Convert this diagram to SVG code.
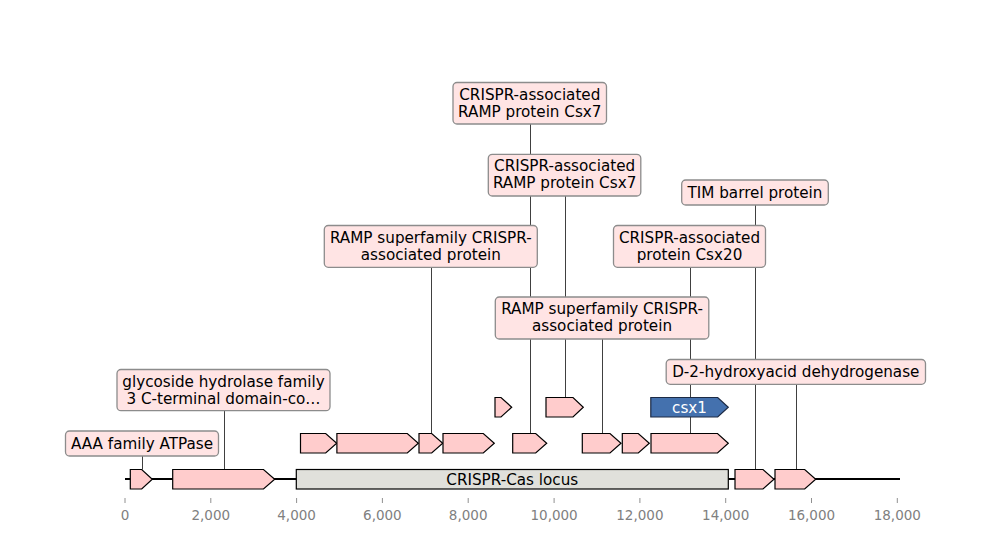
<svg xmlns="http://www.w3.org/2000/svg" width="1000" height="560" viewBox="0 0 1000 560">
  <style>
    text { font-family: "DejaVu Sans", "Liberation Sans", sans-serif; }
    .lbl { fill: #ffe4e4; stroke: #8c8c8c; stroke-width: 1.3; }
    .lbl-t { font-size: 15.2px; fill: #000; text-anchor: middle; }
    .feat { fill: #ffcccc; stroke: #000; stroke-width: 1.2; stroke-linejoin: miter; }
    .locus { fill: #e0e0db; stroke: #000; stroke-width: 1.2; }
    .csx { fill: #4471ae; stroke: #1c2a44; stroke-width: 1.2; }
    .lead { stroke: #404040; stroke-width: 1; fill: none; }
    .tick { stroke: #909090; stroke-width: 1; }
    .tick-t { font-size: 13.5px; fill: #808080; text-anchor: middle; }
  </style>
  <rect width="1000" height="560" fill="#ffffff"/>

  <!-- leader lines from labels to features -->
  <g id="connectors">
    <line class="lead" x1="142.5" y1="456" x2="142.5" y2="469.5"/>
    <line class="lead" x1="224.5" y1="410.7" x2="224.5" y2="469.5"/>
    <line class="lead" x1="431.5" y1="267.3" x2="431.5" y2="433.5"/>
    <line class="lead" x1="530.5" y1="124" x2="530.5" y2="433.5"/>
    <line class="lead" x1="565.5" y1="196" x2="565.5" y2="397.5"/>
    <line class="lead" x1="602.5" y1="339" x2="602.5" y2="433.5"/>
    <line class="lead" x1="690.5" y1="267.3" x2="690.5" y2="433.5"/>
    <line class="lead" x1="755.5" y1="205" x2="755.5" y2="469.5"/>
    <line class="lead" x1="796.5" y1="384.3" x2="796.5" y2="469.5"/>
  </g>

  <!-- sequence backbone -->
  <line id="backbone" x1="125" y1="479" x2="900" y2="479" stroke="#000" stroke-width="2"/>

  <!-- axis -->
  <g id="axis">
    <line class="tick" x1="125" y1="498" x2="125" y2="503"/>
    <line class="tick" x1="210.8" y1="498" x2="210.8" y2="503"/>
    <line class="tick" x1="296.6" y1="498" x2="296.6" y2="503"/>
    <line class="tick" x1="382.4" y1="498" x2="382.4" y2="503"/>
    <line class="tick" x1="468.2" y1="498" x2="468.2" y2="503"/>
    <line class="tick" x1="554.1" y1="498" x2="554.1" y2="503"/>
    <line class="tick" x1="639.9" y1="498" x2="639.9" y2="503"/>
    <line class="tick" x1="725.7" y1="498" x2="725.7" y2="503"/>
    <line class="tick" x1="811.5" y1="498" x2="811.5" y2="503"/>
    <line class="tick" x1="897.3" y1="498" x2="897.3" y2="503"/>
    <text class="tick-t" x="125" y="520">0</text>
    <text class="tick-t" x="210.8" y="520">2,000</text>
    <text class="tick-t" x="296.6" y="520">4,000</text>
    <text class="tick-t" x="382.4" y="520">6,000</text>
    <text class="tick-t" x="468.2" y="520">8,000</text>
    <text class="tick-t" x="554.1" y="520">10,000</text>
    <text class="tick-t" x="639.9" y="520">12,000</text>
    <text class="tick-t" x="725.7" y="520">14,000</text>
    <text class="tick-t" x="811.5" y="520">16,000</text>
    <text class="tick-t" x="897.3" y="520">18,000</text>
  </g>

  <!-- features, row 0 (on the backbone) -->
  <g id="f-aaa"><path class="feat" d="M130.3,469.5 H141.7 L152.3,479.2 L141.7,489 H130.3 Z"/></g>
  <g id="f-gh3"><path class="feat" d="M172.7,469.5 H263.5 L274.7,479.2 L263.5,489 H172.7 Z"/></g>
  <g id="f-locus">
    <rect class="locus" x="296.3" y="469.5" width="432" height="19.5"/>
    <text x="512.3" y="484.7" font-size="15.2" text-anchor="middle" fill="#000">CRISPR-Cas locus</text>
  </g>
  <g id="f-tim"><path class="feat" d="M735,469.5 H763 L774,479.2 L763,489 H735 Z"/></g>
  <g id="f-d2hd"><path class="feat" d="M775,469.5 H804.7 L815.7,479.2 L804.7,489 H775 Z"/></g>

  <!-- features, row 1 -->
  <g id="f-r1a"><path class="feat" d="M300.5,433.5 H325.7 L336.7,443.2 L325.7,453 H300.5 Z"/></g>
  <g id="f-r1b"><path class="feat" d="M336.9,433.5 H407.3 L418.3,443.2 L407.3,453 H336.9 Z"/></g>
  <g id="f-ramp1"><path class="feat" d="M419,433.5 H431.7 L442.7,443.2 L431.7,453 H419 Z"/></g>
  <g id="f-r1c"><path class="feat" d="M443,433.5 H483.3 L494.3,443.2 L483.3,453 H443 Z"/></g>
  <g id="f-csx7a"><path class="feat" d="M512.7,433.5 H535.7 L546.7,443.2 L535.7,453 H512.7 Z"/></g>
  <g id="f-ramp2"><path class="feat" d="M582.3,433.5 H610 L621,443.2 L610,453 H582.3 Z"/></g>
  <g id="f-r1d"><path class="feat" d="M622.3,433.5 H638.3 L649.3,443.2 L638.3,453 H622.3 Z"/></g>
  <g id="f-csx20"><path class="feat" d="M651,433.5 H717.5 L728.3,443.2 L717.5,453 H651 Z"/></g>

  <!-- features, row 2 -->
  <g id="f-r2a"><path class="feat" d="M495,397.5 H501 L511.7,407.2 L501,417 H495 Z"/></g>
  <g id="f-csx7b"><path class="feat" d="M546,397.5 H573 L583.3,407.2 L573,417 H546 Z"/></g>
  <g id="f-csx1">
    <path class="csx" d="M650.8,397.5 H717.7 L728.3,407.2 L717.7,417 H650.8 Z"/>
    <text x="689.5" y="412.7" font-size="15.2" text-anchor="middle" fill="#ffffff">csx1</text>
  </g>

  <!-- annotation labels -->
  <g id="l-aaa">
    <rect class="lbl" x="65.5" y="431" width="153" height="25" rx="4"/>
    <text class="lbl-t" x="142" y="448.7">AAA family ATPase</text>
  </g>
  <g id="l-gh3">
    <rect class="lbl" x="117" y="369.5" width="213" height="41.2" rx="4"/>
    <text class="lbl-t" x="223.5" y="386.5">glycoside hydrolase family</text>
    <text class="lbl-t" x="223.5" y="403.6">3 C-terminal domain-co…</text>
  </g>
  <g id="l-ramp1">
    <rect class="lbl" x="324.3" y="225.5" width="213" height="41.8" rx="4"/>
    <text class="lbl-t" x="430.8" y="242.5">RAMP superfamily CRISPR-</text>
    <text class="lbl-t" x="430.8" y="259.6">associated protein</text>
  </g>
  <g id="l-csx7a">
    <rect class="lbl" x="453" y="82.5" width="153.5" height="41.5" rx="4"/>
    <text class="lbl-t" x="529.8" y="99.5">CRISPR-associated</text>
    <text class="lbl-t" x="529.8" y="116.6">RAMP protein Csx7</text>
  </g>
  <g id="l-csx7b">
    <rect class="lbl" x="488.3" y="154.3" width="152.5" height="41.7" rx="4"/>
    <text class="lbl-t" x="564.6" y="171.3">CRISPR-associated</text>
    <text class="lbl-t" x="564.6" y="188.4">RAMP protein Csx7</text>
  </g>
  <g id="l-tim">
    <rect class="lbl" x="681.7" y="180" width="146.6" height="25" rx="4"/>
    <text class="lbl-t" x="755" y="197.7">TIM barrel protein</text>
  </g>
  <g id="l-csx20">
    <rect class="lbl" x="613.5" y="225.5" width="152" height="41.8" rx="4"/>
    <text class="lbl-t" x="689.5" y="242.5">CRISPR-associated</text>
    <text class="lbl-t" x="689.5" y="259.6">protein Csx20</text>
  </g>
  <g id="l-ramp2">
    <rect class="lbl" x="495.3" y="297" width="213.5" height="42" rx="4"/>
    <text class="lbl-t" x="602" y="314">RAMP superfamily CRISPR-</text>
    <text class="lbl-t" x="602" y="331.1">associated protein</text>
  </g>
  <g id="l-d2hd">
    <rect class="lbl" x="666.2" y="359.5" width="259.3" height="24.8" rx="4"/>
    <text class="lbl-t" x="795.8" y="377.2">D-2-hydroxyacid dehydrogenase</text>
  </g>
</svg>
